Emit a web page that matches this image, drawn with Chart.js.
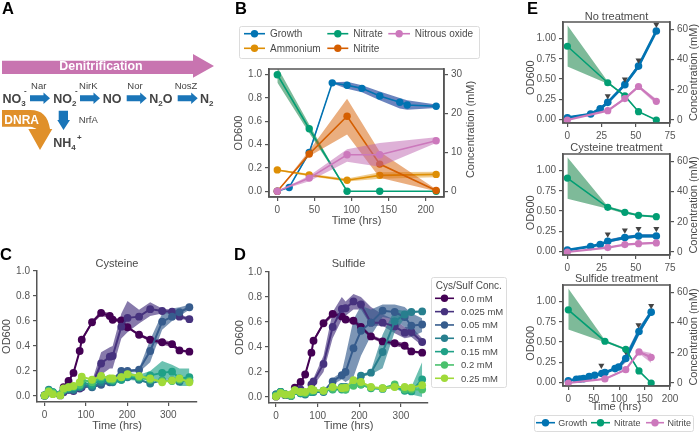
<!DOCTYPE html>
<html>
<head>
<meta charset="utf-8">
<title>Denitrification and DNRA growth curves</title>
<script src="https://cdn.jsdelivr.net/npm/chart.js@4"></script>
<style>
  html, body { margin: 0; padding: 0; background: #fff; }
  #page { position: relative; width: 700px; height: 435px; overflow: hidden; }
  #page canvas { position: absolute; }
  #overlay { position: absolute; left: 0; top: 0; font-family: "Liberation Sans", Arial, sans-serif; pointer-events: none; }
</style>
</head>
<body>
<div id="page"></div>
<script>
// Panel B
const bGrowthT = [0, 16, 43, 74, 94, 114, 138, 165, 175, 214];
const bGrowth = [0, 0.033, 0.333, 0.93, 0.91, 0.883, 0.818, 0.764, 0.74, 0.729];
const bGrowthLow = [0, 0.03, 0.32, 0.925, 0.88, 0.85, 0.78, 0.71, 0.7, 0.715];
const bGrowthHigh = [0, 0.036, 0.345, 0.935, 0.94, 0.91, 0.855, 0.8, 0.78, 0.745];
const bConcT = [0, 43, 94, 138, 214];
const bNitrate = [30, 16.1, 0, 0, 0];
const bNitrateLow = [28, 15, 0, 0, 0];
const bNitrateHigh = [32, 17.2, 0, 0, 0];
const bAmmonium = [5.5, 4.2, 2.85, 4.1, 4.35];
const bAmmoniumLow = [5.3, 3.9, 2.5, 3.2, 3.6];
const bAmmoniumHigh = [5.7, 4.5, 3.3, 4.9, 5.0];
const bNitrite = [0, 9.6, 19.3, 7, 0.2];
const bNitriteLow = [0, 9, 14.6, 3.5, 0];
const bNitriteHigh = [0, 10.5, 23.8, 10.2, 0.5];
const bNitrous = [0, 3.4, 9.4, 9.4, 13];
const bNitrousLow = [0, 2.6, 7.6, 6.3, 12.4];
const bNitrousHigh = [0, 4, 10.8, 12.4, 13.9];

// Panels C and D
const concLabels = ['0.0 mM', '0.025 mM', '0.05 mM', '0.1 mM', '0.15 mM', '0.2 mM', '0.25 mM'];
const concColors = ['#440154', '#46327e', '#365c8d', '#277f8e', '#1fa187', '#4ac16d', '#a0da39'];

const cTimes = [0, 10, 20, 38, 46, 58, 70, 85, 90, 115, 137, 158, 165, 186, 201, 229, 256, 285, 309, 327, 351];
const c00 = [.005, .03, .02, .013, .07, .12, .185, .36, .45, .59, .665, .64, .61, .605, .55, .49, .45, .43, .415, .365, .355];
const c025 = [.005, .04, .02, .005, .03, .05, .04, .06, .07, .09, .26, .315, .32, .555, .625, .635, .695, .68, .675, .635, .615];
const c05 = [.005, .04, .025, .01, .04, .05, .05, .07, .08, .07, .09, .11, .13, .2, .2, .21, .36, .595, .635, .67, .71];
const c10 = [.005, .05, .03, .01, .05, .06, .05, .07, .09, .075, .11, .125, .11, .13, .15, .13, .1, .125, .125, .115, .125];
const c15 = [.005, .045, .03, .01, .05, .06, .07, .08, .11, .09, .13, .13, .12, .13, .16, .145, .165, .185, .195, .14, .15];
const c20 = [.005, .04, .025, .01, .05, .07, .075, .09, .13, .11, .15, .135, .13, .15, .17, .15, .13, .12, .12, .13, .12];
const c25 = [.005, .035, .015, .005, .06, .07, .08, .11, .155, .13, .16, .14, .14, .15, .175, .16, .14, .11, .125, .14, .11];
const cSeries = [c00, c025, c05, c10, c15, c20, c25];

const c00Low = [.005, .025, .015, .01, .06, .11, .175, .345, .435, .575, .645, .62, .595, .59, .54, .48, .435, .41, .395, .355, .345];
const c00High = [.005, .035, .025, .016, .08, .13, .195, .375, .465, .605, .685, .66, .625, .62, .56, .5, .465, .45, .435, .375, .365];
const c025BandT = [90, 115, 137, 158, 165, 186, 201, 229, 256, 285, 309, 327, 351];
const c025Low = [.06, .07, .17, .22, .22, .46, .51, .58, .64, .66, .66, .62, .6];
const c025High = [.08, .12, .35, .39, .4, .66, .76, .69, .75, .7, .69, .65, .63];
const c05BandT = [186, 201, 229, 256, 285, 309, 327, 351];
const c05Low = [.19, .19, .19, .27, .53, .6, .64, .69];
const c05High = [.21, .21, .22, .45, .66, .7, .71, .73];
const c15BandT = [137, 158, 186, 201, 229, 256, 285, 309, 327, 351];
const c15Low = [.11, .09, .11, .13, .12, .13, .13, .14, .08, .08];
const c15High = [.15, .17, .15, .19, .17, .2, .28, .25, .22, .22];

const dTimes = [0, 11, 22, 36, 45, 59, 70, 85, 90, 114, 136, 158, 167, 186, 204, 228, 256, 285, 309, 325, 351];
const d00 = [.005, .035, .02, .015, .075, .12, .18, .355, .45, .59, .665, .645, .62, .61, .56, .485, .445, .43, .41, .365, .355];
const d025 = [.005, .03, .015, .01, .05, .06, .03, .1, .125, .265, .56, .705, .71, .765, .74, .595, .595, .565, .515, .52, .44];
const d05 = [.02, .04, .02, .01, .05, .04, .03, .05, .05, .045, .125, .175, .2, .39, .53, .595, .69, .68, .64, .57, .58];
const d10 = [.02, .04, .02, .01, .05, .03, .02, .04, .04, .04, .07, .08, .08, .12, .17, .195, .36, .605, .66, .68, .685];
const d15 = [.01, .04, .02, .01, .05, .03, .03, .04, .05, .05, .06, .06, .06, .105, .1, .07, .065, .085, .05, .045, .14];
const d20 = [.01, .035, .02, .01, .05, .04, .03, .05, .05, .05, .065, .075, .06, .09, .1, .075, .07, .1, .06, .06, .06];
const d25 = [.005, .03, .02, .02, .055, .04, .04, .065, .055, .05, .08, .07, .075, .135, .12, .08, .07, .08, .08, .075, .095];
const dSeries = [d00, d025, d05, d10, d15, d20, d25];

const d00Low = [.005, .03, .015, .01, .065, .11, .17, .34, .435, .575, .645, .625, .6, .59, .54, .47, .43, .41, .39, .355, .345];
const d00High = [.005, .04, .025, .02, .085, .13, .19, .37, .465, .605, .685, .665, .64, .63, .58, .5, .46, .45, .43, .375, .365];
const d025BandT = [90, 114, 136, 158, 167, 186, 204, 228, 256, 285, 309, 325, 351];
const d025Low = [.09, .2, .47, .62, .65, .7, .7, .57, .57, .51, .47, .48, .41];
const d025High = [.15, .33, .68, .8, .765, .825, .8, .72, .66, .62, .56, .56, .47];
const d05BandT = [136, 158, 167, 186, 204, 228, 256, 285, 309, 325, 351];
const d05Low = [.1, .14, .12, .16, .33, .49, .64, .62, .56, .48, .52];
const d05High = [.15, .2, .33, .62, .73, .7, .74, .74, .72, .67, .63];
const d10BandT = [204, 228, 256, 285, 309, 325, 351];
const d10Low = [.16, .18, .23, .52, .63, .67, .68];
const d10High = [.18, .21, .5, .7, .69, .69, .69];
const d15BandT = [285, 309, 325, 351];
const d15Low = [.07, .03, .02, 0];
const d15High = [.1, .07, .08, .28];

// Panel E
const eNoT = [0, 17, 24, 29.5, 42, 52, 65];
const eNoGrowth = [.02, .065, .13, .21, .43, .66, 1.095];
const eNoGrowthLow = [.01, .055, .115, .195, .41, .63, 1.08];
const eNoGrowthHigh = [.03, .075, .145, .225, .45, .69, 1.11];
const eNoConcT = [0, 29.5, 42, 52, 65];
const eNoNitrate = [48.9, 24.7, 16, 5.5, 0];
const eNoNitrateLow = [35.5, 24, 15.5, 5, 0];
const eNoNitrateHigh = [62.9, 25.5, 16.5, 6, 0];
const eNoNitrite = [0, 6.2, 14.2, 22.2, 12.4];
const eNoNitriteLow = [0, 5.8, 13.4, 21.3, 10.5];
const eNoNitriteHigh = [0, 6.6, 15, 23, 14];
const eNoMarkT = [29.5, 42, 52, 65];
const eNoMarks = [.29, .497, .733, 1.175];

const eCysT = [0, 17, 24, 29.5, 42, 52, 65];
const eCysGrowth = [.015, .06, .085, .125, .17, .19, .19];
const eCysGrowthLow = [.005, .05, .075, .105, .15, .17, .17];
const eCysGrowthHigh = [.025, .07, .095, .145, .19, .21, .21];
const eCysConcT = [0, 29.5, 42, 52, 65];
const eCysNitrate = [49, 29.6, 26.3, 24.3, 23.4];
const eCysNitrateLow = [35.3, 28.7, 25.3, 23.8, 22.5];
const eCysNitrateHigh = [62.9, 30.4, 27.3, 24.8, 24.2];
const eCysNitrite = [0, 2.9, 4.9, 5.5, 6];
const eCysNitriteLow = [0, 2.6, 4.5, 5, 5.4];
const eCysNitriteHigh = [0, 3.2, 5.3, 6, 6.6];
const eCysMarkT = [29.5, 42, 52, 65];
const eCysMarks = [.21, .26, .28, .28];

const eSulT = [0, 16, 23, 30, 41, 52, 66, 72, 92, 99, 113, 139, 163];
const eSulGrowth = [.02, .037, .04, .045, .07, .087, .11, .12, .17, .19, .295, .63, .87];
const eSulGrowthLow = [.01, .03, .033, .038, .06, .077, .1, .11, .16, .165, .25, .58, .85];
const eSulGrowthHigh = [.03, .044, .047, .052, .08, .097, .12, .13, .18, .21, .35, .68, .9];
const eSulConcT = [0, 72, 113, 139, 163];
const eSulNitrate = [48.5, 27.7, 22.3, 8, 0];
const eSulNitrateLow = [35.4, 27, 21.5, 7.5, 0];
const eSulNitrateHigh = [62.6, 28.5, 23, 8.5, 0];
const eSulNitrite = [0, 2.7, 8.8, 20.6, 17];
const eSulNitriteLow = [0, 2.3, 8.2, 19.5, 13.3];
const eSulNitriteHigh = [0, 3.1, 9.4, 21.5, 19.9];
const eSulMarkT = [65, 113, 138, 163];
const eSulMarks = [.207, .38, .71, .95];

const BLUE = '#0173b2', GREEN = '#029e73', AMBER = '#de8f05', RED = '#d55e00', PINK = '#cc78bc';
const BAND_BLUE = 'rgba(50, 85, 165, 0.72)', BAND_GREEN = 'rgba(20, 130, 70, 0.55)', BAND_AMBER = 'rgba(222, 143, 5, 0.45)';
const BAND_RED = 'rgba(213, 94, 0, 0.5)', BAND_PINK = 'rgba(190, 100, 175, 0.5)';
const INK = '#555555', TEXT = '#4a4a4a';
const FONT = '"Liberation Sans", Arial, sans-serif';

const page = document.getElementById('page');

function pts(xs, ys) {
  return xs.map((x, i) => ({ x: x, y: ys[i] }));
}

function line(xs, ys, color, yAxisID, lineWidth, radius) {
  return {
    type: 'line', data: pts(xs, ys), yAxisID: yAxisID,
    borderColor: color, backgroundColor: color, borderWidth: lineWidth,
    pointRadius: radius, pointBorderWidth: 0, pointHoverRadius: radius, fill: false, tension: 0
  };
}

// paint order here is reversed again in panel(), so the lower edge fills up to the next dataset
function band(xs, low, high, color, yAxisID) {
  const common = { type: 'line', yAxisID: yAxisID, borderWidth: 0, pointRadius: 0, tension: 0 };
  return [
    Object.assign({}, common, { data: pts(xs, high), fill: false }),
    Object.assign({}, common, { data: pts(xs, low), fill: '+1', backgroundColor: color })
  ];
}

function marks(xs, ys) {
  return {
    type: 'line', data: pts(xs, ys), yAxisID: 'y', showLine: false,
    pointStyle: 'triangle', rotation: 180, pointRadius: 3.5, pointBorderWidth: 0,
    backgroundColor: '#444444', borderColor: '#444444'
  };
}

const framePlugin = {
  id: 'frame',
  afterDatasetsDraw(chart, args, opts) {
    if (!opts.on) return;
    const a = chart.chartArea, ctx = chart.ctx;
    ctx.save();
    ctx.strokeStyle = INK;
    ctx.lineWidth = 1.5;
    ctx.strokeRect(a.left, a.top, a.right - a.left, a.bottom - a.top);
    ctx.restore();
  }
};

function axis(cfg, position, digits, titleText) {
  return {
    type: 'linear', position: position, min: cfg.min, max: cfg.max,
    border: { display: true, color: INK, width: 1.5 },
    grid: { drawOnChartArea: false, color: INK, lineWidth: 1.2, tickLength: 4 },
    ticks: {
      stepSize: cfg.step, includeBounds: false, autoSkip: false, maxRotation: 0,
      color: INK, padding: 3, font: { family: FONT, size: 10 },
      callback: v => v.toFixed(digits)
    },
    title: {
      display: !!titleText, text: titleText, color: TEXT, padding: 0,
      font: { family: FONT, size: 11, lineHeight: 1.2 }
    }
  };
}

function panel(p) {
  const [l, t, r, b] = p.rect;
  const [lw, tp, rw, bh] = p.pad;
  const canvas = document.createElement('canvas');
  canvas.width = lw + (r - l) + rw;
  canvas.height = tp + (b - t) + bh;
  canvas.style.left = (l - lw) + 'px';
  canvas.style.top = (t - tp) + 'px';
  page.appendChild(canvas);

  const scales = {
    x: axis(p.x, 'bottom', 0, p.xTitle),
    y: axis(p.y, 'left', p.y.digits, p.yTitle)
  };
  scales.x.afterFit = s => { s.height = bh; };
  scales.y.afterFit = s => { s.width = lw; };
  if (p.y2) {
    scales.y2 = axis(p.y2, 'right', 0, '');
    scales.y2.afterFit = s => { s.width = rw; };
  }

  const title = { display: false };
  const padding = { top: tp, left: 0, right: p.y2 ? 0 : rw, bottom: 0 };
  if (p.title) {
    const above = p.titleY - 6.6 - (t - tp);
    title.display = true;
    title.text = p.title;
    title.color = TEXT;
    title.fullSize = false;
    title.font = { family: FONT, size: 11, lineHeight: 1.2, weight: 'normal' };
    title.padding = { top: above, bottom: tp - 13.2 - above };
    padding.top = 0;
  }

  new Chart(canvas, {
    data: { datasets: p.layers.flat().reverse() },
    options: {
      responsive: false, animation: false, devicePixelRatio: 1,
      layout: { padding: padding },
      scales: scales,
      plugins: { legend: { display: false }, tooltip: { enabled: false }, title: title, frame: { on: !!p.frame } }
    },
    plugins: [framePlugin]
  });
}

const xE = { min: -3.2, max: 75, step: 25 };
const yE = { min: -0.046, max: 1.207, step: 0.25, digits: 2 };
const y2E = { min: -2, max: 65, step: 20 };

// Panel B
panel({
  rect: [269, 62, 444, 197], pad: [37, 2, 33, 31], frame: true,
  x: { min: -11.2, max: 224.6, step: 50 },
  y: { min: -0.049, max: 1.049, step: 0.2, digits: 1 },
  y2: { min: -1.47, max: 31.47, step: 10 },
  xTitle: 'Time (hrs)', yTitle: 'OD600',
  layers: [
    band(bGrowthT, bGrowthLow, bGrowthHigh, BAND_BLUE, 'y'),
    line(bGrowthT, bGrowth, BLUE, 'y', 1.6, 3.7),
    band(bConcT, bAmmoniumLow, bAmmoniumHigh, BAND_AMBER, 'y2'),
    line(bConcT, bAmmonium, AMBER, 'y2', 1.6, 3.7),
    band(bConcT, bNitrateLow, bNitrateHigh, BAND_GREEN, 'y2'),
    line(bConcT, bNitrate, GREEN, 'y2', 1.6, 3.7),
    band(bConcT, bNitriteLow, bNitriteHigh, BAND_RED, 'y2'),
    line(bConcT, bNitrite, RED, 'y2', 1.6, 3.7),
    band(bConcT, bNitrousLow, bNitrousHigh, BAND_PINK, 'y2'),
    line(bConcT, bNitrous, PINK, 'y2', 1.6, 3.7)
  ]
});

function viridisAlpha(i) {
  const c = concColors[i];
  const n = parseInt(c.slice(1), 16);
  return 'rgba(' + (n >> 16) + ',' + ((n >> 8) & 255) + ',' + (n & 255) + ',0.65)';
}

// Panel C
panel({
  rect: [37, 271, 197, 402], pad: [37, 15, 6, 31], title: 'Cysteine', titleY: 263.7,
  x: { min: -18.5, max: 369.5, step: 100 },
  y: { min: -0.048, max: 1, step: 0.2, digits: 1 },
  xTitle: 'Time (hrs)', yTitle: 'OD600',
  layers: [
    band(cTimes, c00Low, c00High, viridisAlpha(0), 'y'),
    band(c025BandT, c025Low, c025High, viridisAlpha(1), 'y'),
    band(c05BandT, c05Low, c05High, viridisAlpha(2), 'y'),
    band(c15BandT, c15Low, c15High, viridisAlpha(4), 'y'),
    cSeries.map((s, i) => line(cTimes, s, concColors[i], 'y', 2, 3.9))
  ]
});

// Panel D
panel({
  rect: [269, 272, 428, 403], pad: [36, 15, 6, 30], title: 'Sulfide', titleY: 264.3,
  x: { min: -16.9, max: 365, step: 100 },
  y: { min: -0.048, max: 1, step: 0.2, digits: 1 },
  xTitle: 'Time (hrs)', yTitle: 'OD600',
  layers: [
    band(dTimes, d00Low, d00High, viridisAlpha(0), 'y'),
    band(d025BandT, d025Low, d025High, viridisAlpha(1), 'y'),
    band(d05BandT, d05Low, d05High, viridisAlpha(2), 'y'),
    band(d10BandT, d10Low, d10High, viridisAlpha(3), 'y'),
    band(d15BandT, d15Low, d15High, viridisAlpha(4), 'y'),
    dSeries.map((s, i) => line(dTimes, s, concColors[i], 'y', 2, 3.9))
  ]
});

// Panel E
function treatment(rect, pad, titleText, titleY, x, xTitle, d) {
  panel({
    rect: rect, pad: pad, frame: true, title: titleText, titleY: titleY,
    x: x, y: yE, y2: y2E, xTitle: xTitle,
    layers: [
      band(d.t, d.growthLow, d.growthHigh, BAND_BLUE, 'y'),
      line(d.t, d.growth, BLUE, 'y', 2.8, 3.8),
      marks(d.markT, d.marks),
      band(d.ct, d.nitrateLow, d.nitrateHigh, BAND_GREEN, 'y2'),
      line(d.ct, d.nitrate, GREEN, 'y2', 1.6, 3.6),
      band(d.ct, d.nitriteLow, d.nitriteHigh, BAND_PINK, 'y2'),
      line(d.ct, d.nitrite, PINK, 'y2', 2.2, 3.6)
    ]
  });
}

treatment([563, 22, 670, 123], [35, 15, 30, 18], 'No treatment', 16.7, xE, '', {
  t: eNoT, growth: eNoGrowth, growthLow: eNoGrowthLow, growthHigh: eNoGrowthHigh,
  ct: eNoConcT, nitrate: eNoNitrate, nitrateLow: eNoNitrateLow, nitrateHigh: eNoNitrateHigh,
  nitrite: eNoNitrite, nitriteLow: eNoNitriteLow, nitriteHigh: eNoNitriteHigh,
  markT: eNoMarkT, marks: eNoMarks
});
treatment([563, 154, 670, 255], [35, 15, 30, 18], 'Cysteine treatment', 148, xE, '', {
  t: eCysT, growth: eCysGrowth, growthLow: eCysGrowthLow, growthHigh: eCysGrowthHigh,
  ct: eCysConcT, nitrate: eCysNitrate, nitrateLow: eCysNitrateLow, nitrateHigh: eCysNitrateHigh,
  nitrite: eCysNitrite, nitriteLow: eCysNitriteLow, nitriteHigh: eCysNitriteHigh,
  markT: eCysMarkT, marks: eCysMarks
});
treatment([563, 285, 670, 386], [35, 15, 30, 28], 'Sulfide treatment', 279.3, { min: -10.4, max: 200, step: 50 }, 'Time (hrs)', {
  t: eSulT, growth: eSulGrowth, growthLow: eSulGrowthLow, growthHigh: eSulGrowthHigh,
  ct: eSulConcT, nitrate: eSulNitrate, nitrateLow: eSulNitrateLow, nitrateHigh: eSulNitrateHigh,
  nitrite: eSulNitrite, nitriteLow: eSulNitriteLow, nitriteHigh: eSulNitriteHigh,
  markT: eSulMarkT, marks: eSulMarks
});

// Overlay: pathway diagram, panel letters and legends
function hArrow(x0, x1) {
  const y = 98.3, head = x1 - 6.5;
  return `<path d="M${x0} ${y - 3}H${head}V${y - 5.7}L${x1} ${y}L${head} ${y + 5.7}V${y + 3}H${x0}Z" fill="#1a75b8"/>`;
}

function chem(x, y, parts) {
  return `<text x="${x}" y="${y}" font-size="12.5" font-weight="bold" fill="#444">` + parts.map(p =>
    p.length === 1 ? `<tspan>${p[0]}</tspan>` : `<tspan font-size="8" font-weight="bold" dy="${p[1]}">${p[0]}</tspan><tspan font-size="12.5" dy="${-p[1]}">\u200b</tspan>`
  ).join('') + '</text>';
}

function enzyme(x, y, s) {
  return `<text x="${x}" y="${y}" font-size="9.5" fill="#444" text-anchor="middle" dominant-baseline="central">${s}</text>`;
}

function letter(x, y, s) {
  return `<text x="${x}" y="${y}" font-size="16.5" font-weight="bold" fill="#000">${s}</text>`;
}

function legendItem(x0, x1, y, textX, color, label, size) {
  return `<line x1="${x0}" x2="${x1}" y1="${y}" y2="${y}" stroke="${color}" stroke-width="1.6"/>` +
    `<circle cx="${(x0 + x1) / 2}" cy="${y}" r="3.7" fill="${color}"/>` +
    `<text x="${textX}" y="${y}" font-size="${size}" fill="${TEXT}" dominant-baseline="central">${label}</text>`;
}

function legendBox(x, y, w, h) {
  return `<rect x="${x + 0.5}" y="${y + 0.5}" width="${w}" height="${h}" rx="2" fill="#fff" stroke="#dcdcdc"/>`;
}

function rotated(x, y, s) {
  return `<text transform="translate(${x} ${y}) rotate(-90)" font-size="11" fill="${TEXT}" text-anchor="middle" dominant-baseline="central">${s}</text>`;
}

const bLegend = [
  [244, 265, 33.7, 270, BLUE, 'Growth'],
  [244, 265, 48.3, 270, AMBER, 'Ammonium'],
  [327.3, 348.3, 33.7, 353.3, GREEN, 'Nitrate'],
  [327.3, 348.3, 48.3, 353.3, RED, 'Nitrite'],
  [388.3, 410, 33.7, 414.7, PINK, 'Nitrous oxide']
];
const eLegend = [
  [536, 555, 422.7, 558.3, BLUE, 'Growth'],
  [591, 610, 422.7, 614, GREEN, 'Nitrate'],
  [646, 664, 422.7, 667.5, PINK, 'Nitrite']
];

let svg = '';
svg += letter(2, 13.5, 'A') + letter(235, 13.5, 'B') + letter(0, 259.5, 'C') + letter(234, 259.5, 'D') + letter(527, 13.5, 'E');

svg += '<path d="M2 60.7H193V54L214 66L193 77.7V74H2Z" fill="#c874b0"/>';
svg += '<text x="101" y="66" font-size="12.4" font-weight="bold" fill="#fff" text-anchor="middle" dominant-baseline="central">Denitrification</text>';
svg += hArrow(30, 50) + hArrow(80, 100) + hArrow(126.7, 146.7) + hArrow(177.7, 197.7);
svg += '<path d="M58.7 110.7H68V120H70L63.5 130L57.3 120H58.7Z" fill="#1a75b8"/>';
svg += '<path d="M2 110H30C42 110 48 116 50 129H52.3L40 150L28.3 129H36.5C35 128 33 127 30 126.7H2Z" fill="#e0902a"/>';
svg += '<text x="21.7" y="120" font-size="12" font-weight="bold" fill="#fff" text-anchor="middle" dominant-baseline="central">DNRA</text>';
svg += chem(2.5, 103.3, [['NO'], ['3', 3]]) + chem(53.3, 103.3, [['NO'], ['2', 3]]) + chem(102.7, 103.3, [['NO']]);
svg += chem(149.3, 103.3, [['N'], ['2', 3], ['O']]) + chem(200, 103.3, [['N'], ['2', 3]]);
svg += chem(53.3, 146.7, [['NH'], ['4', 3]]);
svg += '<text x="24" y="93" font-size="8" font-weight="bold" fill="#444">-</text><text x="75" y="93" font-size="8" font-weight="bold" fill="#444">-</text>';
svg += '<text x="77" y="140" font-size="8" font-weight="bold" fill="#444">+</text>';
svg += enzyme(38.7, 85, 'Nar') + enzyme(88.3, 85, 'NirK') + enzyme(135, 85, 'Nor') + enzyme(186, 85, 'NosZ') + enzyme(88.3, 119.3, 'NrfA');

svg += legendBox(239, 26, 240, 32);
bLegend.forEach(i => { svg += legendItem(i[0], i[1], i[2], i[3], i[4], i[5], 10); });

svg += legendBox(431, 277, 75, 110);
svg += `<text x="435.7" y="285" font-size="10" fill="${TEXT}" dominant-baseline="central">Cys/Sulf Conc.</text>`;
concLabels.forEach((label, i) => { svg += legendItem(435, 454, 298.3 + i * 13.33, 461, concColors[i], label, 9.5); });

svg += legendBox(534, 415, 159, 16);
eLegend.forEach(i => { svg += legendItem(i[0], i[1], i[2], i[3], i[4], i[5], 9); });

// OD600 in panel E sits on the 0 to 1 range rather than on the middle of the axes
[77.7, 212.8, 343.3].forEach(y => { svg += rotated(530, y, 'OD600'); });

// Chart.js turns a right-hand axis title the other way, so these are placed here
svg += rotated(470, 129.5, 'Concentration (mM)');
[72.5, 205, 337].forEach(y => { svg += rotated(693.3, y, 'Concentration (mM)'); });

const overlay = document.createElementNS('http://www.w3.org/2000/svg', 'svg');
overlay.setAttribute('id', 'overlay');
overlay.setAttribute('width', '700');
overlay.setAttribute('height', '435');
overlay.innerHTML = svg;
page.appendChild(overlay);
</script>
</body>
</html>
